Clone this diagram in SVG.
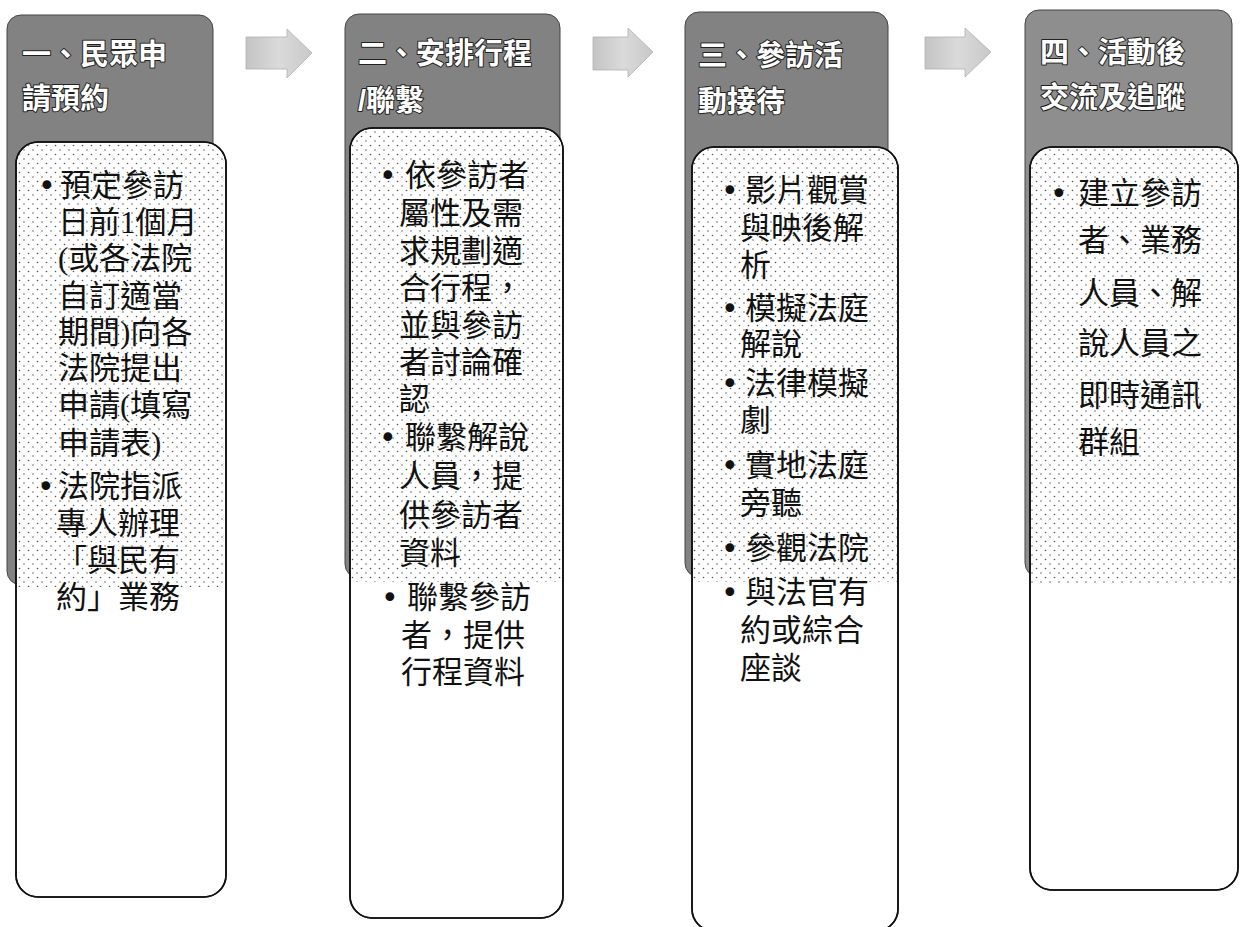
<svg xmlns="http://www.w3.org/2000/svg" width="1247" height="927" viewBox="0 0 1247 927">
<defs>
<pattern id="dots" width="9" height="9" patternUnits="userSpaceOnUse">
<rect width="9" height="9" fill="#ffffff"/>
<circle cx="1.5" cy="1.5" r="0.8" fill="#555"/>
<circle cx="6" cy="6" r="0.8" fill="#666"/>
</pattern>
<linearGradient id="arrowGrad" x1="0" y1="0" x2="1" y2="0">
<stop offset="0" stop-color="#c4c4c4"/>
<stop offset="0.5" stop-color="#dadada"/>
<stop offset="1" stop-color="#c8c8c8"/>
</linearGradient>
<style>
.hdr{stroke:#444;stroke-width:1}
.box{fill:#ffffff;stroke:#111;stroke-width:1.6}
.edge{fill:none;stroke:#111;stroke-width:1.6}
.dot{fill:url(#dots)}
.ht{font-family:"Liberation Sans","Noto Sans CJK TC","Noto Sans CJK SC",sans-serif;font-size:29px;font-weight:700;fill:#ffffff;stroke:#222;stroke-width:2;paint-order:stroke;stroke-linejoin:round}
.bt{font-family:"Liberation Serif","Noto Sans CJK TC","Noto Sans CJK SC",sans-serif;font-size:31px;fill:#111}
.bl{font-family:"DejaVu Sans",sans-serif;font-size:30px}
.arrow{fill:url(#arrowGrad);stroke:#b0b0b0;stroke-width:0.8}
</style>
</defs>
<rect width="1247" height="927" fill="#ffffff"/>

<g id="connectors">
<polygon class="arrow" points="246,37 287,37 287,29 312,53 287,78 287,69 246,69"/>
<polygon class="arrow" points="593,37 628,37 628,28 653,52 628,77 628,70 593,70"/>
<polygon class="arrow" points="925,37 965,37 965,28 991,52 965,77 965,69 925,69"/>
</g>

<g id="node1">
<rect class="hdr" x="7" y="15" width="206" height="570" rx="14" fill="#828282"/>
<text class="ht"><tspan x="22" y="65">一、民眾申</tspan><tspan x="22" y="109">請預約</tspan></text>
<rect class="box" x="16" y="142" width="210" height="755" rx="22"/>
<path class="dot" d="M17,587 V164 A21,21 0 0 1 38,143 H204 A21,21 0 0 1 225,164 V587 Z"/>
<rect class="edge" x="16" y="142" width="210" height="755" rx="22"/>
<text class="bt"><tspan class="bl" x="38" y="196">•</tspan><tspan x="60" y="196">預定參訪</tspan><tspan x="58" y="233">日前1個月</tspan><tspan x="58" y="269">(或各法院</tspan><tspan x="58" y="307">自訂適當</tspan><tspan x="58" y="343">期間)向各</tspan><tspan x="58" y="379">法院提出</tspan><tspan x="58" y="416">申請(填寫</tspan><tspan x="58" y="454">申請表)</tspan><tspan class="bl" x="37" y="497">•</tspan><tspan x="58" y="497">法院指派</tspan><tspan x="56" y="534">專人辦理</tspan><tspan x="56" y="571">「與民有</tspan><tspan x="56" y="608">約」業務</tspan></text>
</g>

<g id="node2">
<rect class="hdr" x="345" y="14" width="215" height="564" rx="14" fill="#828282"/>
<text class="ht"><tspan x="358" y="64">二、安排行程</tspan><tspan x="358" y="111">/聯繫</tspan></text>
<rect class="box" x="350" y="128" width="213" height="790" rx="22"/>
<path class="dot" d="M351,582 V150 A21,21 0 0 1 372,129 H541 A21,21 0 0 1 562,150 V582 Z"/>
<rect class="edge" x="350" y="128" width="213" height="790" rx="22"/>
<text class="bt"><tspan class="bl" x="379" y="186">•</tspan><tspan x="405" y="186">依參訪者</tspan><tspan x="399" y="224">屬性及需</tspan><tspan x="399" y="262">求規劃適</tspan><tspan x="399" y="299">合行程，</tspan><tspan x="399" y="336">並與參訪</tspan><tspan x="399" y="373">者討論確</tspan><tspan x="399" y="410">認</tspan><tspan class="bl" x="379" y="448">•</tspan><tspan x="405" y="448">聯繫解說</tspan><tspan x="399" y="487">人員，提</tspan><tspan x="399" y="526">供參訪者</tspan><tspan x="399" y="564">資料</tspan><tspan class="bl" x="381" y="608">•</tspan><tspan x="407" y="608">聯繫參訪</tspan><tspan x="401" y="646">者，提供</tspan><tspan x="401" y="683">行程資料</tspan></text>
</g>

<g id="node3">
<rect class="hdr" x="685" y="12" width="203" height="565" rx="14" fill="#828282"/>
<text class="ht"><tspan x="698" y="66">三、參訪活</tspan><tspan x="698" y="112">動接待</tspan></text>
<rect class="box" x="692" y="147" width="206" height="784" rx="22"/>
<path class="dot" d="M693,582 V169 A21,21 0 0 1 714,148 H876 A21,21 0 0 1 897,169 V582 Z"/>
<rect class="edge" x="692" y="147" width="206" height="784" rx="22"/>
<text class="bt"><tspan class="bl" x="721" y="201">•</tspan><tspan x="745" y="201">影片觀賞</tspan><tspan x="740" y="239">與映後解</tspan><tspan x="740" y="276">析</tspan><tspan class="bl" x="721" y="319">•</tspan><tspan x="745" y="319">模擬法庭</tspan><tspan x="740" y="355">解說</tspan><tspan class="bl" x="721" y="394">•</tspan><tspan x="745" y="394">法律模擬</tspan><tspan x="740" y="431">劇</tspan><tspan class="bl" x="721" y="476">•</tspan><tspan x="745" y="476">實地法庭</tspan><tspan x="740" y="514">旁聽</tspan><tspan class="bl" x="721" y="559">•</tspan><tspan x="745" y="559">參觀法院</tspan><tspan class="bl" x="721" y="603">•</tspan><tspan x="745" y="603">與法官有</tspan><tspan x="740" y="641">約或綜合</tspan><tspan x="740" y="679">座談</tspan></text>
</g>

<g id="node4">
<rect class="hdr" x="1025" y="10" width="207" height="567" rx="14" fill="#8e8e8e"/>
<text class="ht"><tspan x="1040" y="63">四、活動後</tspan><tspan x="1040" y="108">交流及追蹤</tspan></text>
<rect class="box" x="1030" y="147" width="208" height="743" rx="22"/>
<path class="dot" d="M1031,583 V169 A21,21 0 0 1 1052,148 H1216 A21,21 0 0 1 1237,169 V583 Z"/>
<rect class="edge" x="1030" y="147" width="208" height="743" rx="22"/>
<text class="bt"><tspan class="bl" x="1050" y="204">•</tspan><tspan x="1078" y="204">建立參訪</tspan><tspan x="1078" y="251">者、業務</tspan><tspan x="1078" y="304">人員、解</tspan><tspan x="1078" y="354">說人員之</tspan><tspan x="1078" y="406">即時通訊</tspan><tspan x="1078" y="453">群組</tspan></text>
</g>
</svg>
